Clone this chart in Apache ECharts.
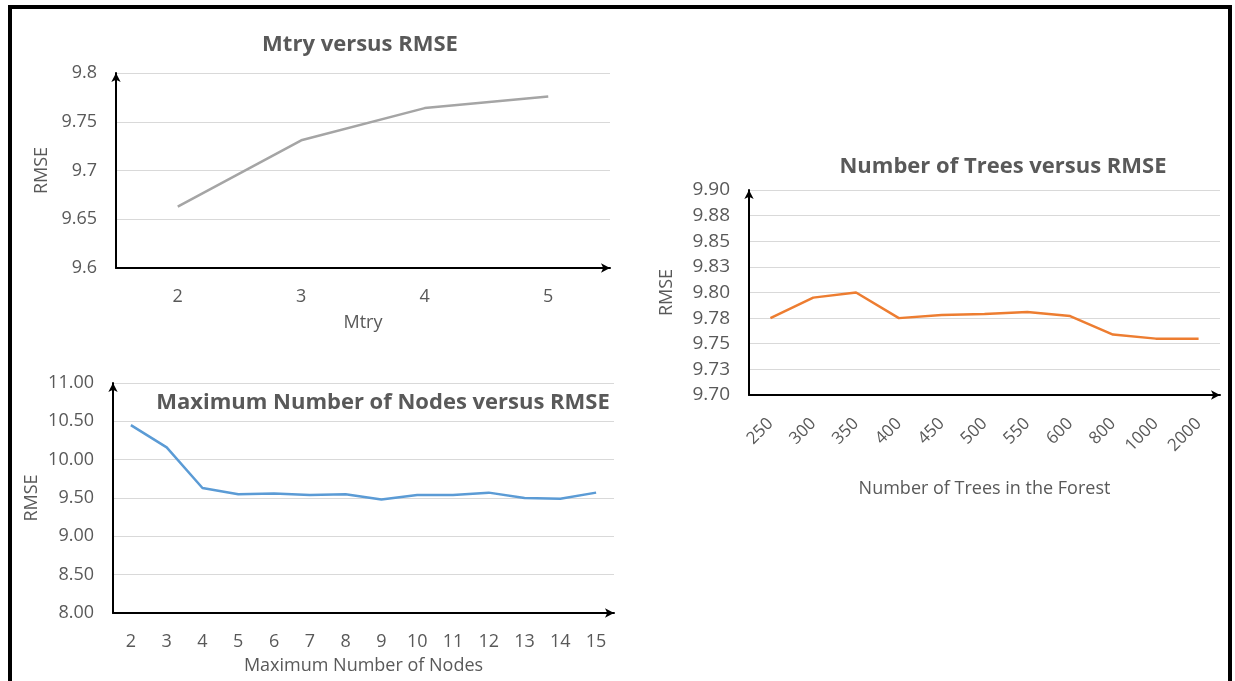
<!DOCTYPE html>
<html>
<head>
<meta charset="utf-8">
<script src="https://cdn.jsdelivr.net/npm/echarts@6/dist/echarts.min.js"></script>
<style>
    html, body { margin: 0; padding: 0; background: #fff; }
    #chart { width: 1235px; height: 681px; }
</style>
</head>
<body>
<div id="chart"></div>
<script>
// Mtry chart
const mtryCats = ['2', '3', '4', '5']
const mtryRmse = [9.663, 9.731, 9.764, 9.776]

// max nodes chart
const nodeCats = ['2', '3', '4', '5', '6', '7', '8', '9', '10', '11', '12', '13', '14', '15']
const nodeRmse = [10.45, 10.16, 9.63, 9.55, 9.56, 9.54, 9.55, 9.48, 9.54, 9.54, 9.57, 9.50, 9.49, 9.57]

// number of trees chart
const treeCats = ['250', '300', '350', '400', '450', '500', '550', '600', '800', '1000', '2000']
const treeRmse = [9.775, 9.795, 9.800, 9.775, 9.778, 9.779, 9.781, 9.777, 9.759, 9.755, 9.755]
const treeTicks = ['9.70', '9.73', '9.75', '9.78', '9.80', '9.83', '9.85', '9.88', '9.90']

const FONT = '"Open Sans", "Noto Sans", sans-serif'
const TEXT = '#595959'

const chartInstance = echarts.init(document.getElementById('chart'))

function axisLine() {
    return {
        show: true,
        onZero: false,
        symbol: ['none', 'arrow'],
        symbolSize: [7, 9],
        lineStyle: { color: '#000', width: 2 }
    }
}

function xAxis(gridIndex, cats, name, gap, extra) {
    return Object.assign({
        type: 'category',
        gridIndex: gridIndex,
        data: cats,
        name: name,
        nameLocation: 'middle',
        nameGap: gap,
        nameTextStyle: { color: TEXT, fontSize: 18, fontFamily: FONT },
        axisLine: axisLine(),
        axisTick: { show: false },
        axisLabel: { color: TEXT, fontSize: 18, fontFamily: FONT, margin: 20 },
        splitLine: { show: false }
    }, extra || {})
}

function yAxis(gridIndex, min, max, interval, gap, formatter, fontSize) {
    return {
        type: 'value',
        gridIndex: gridIndex,
        min: min,
        max: max,
        interval: interval,
        name: 'RMSE',
        nameLocation: 'middle',
        nameRotate: 90,
        nameGap: gap,
        nameTextStyle: { color: TEXT, fontSize: 18, fontFamily: FONT },
        axisLine: axisLine(),
        axisTick: { show: false },
        axisLabel: {
            color: TEXT,
            fontSize: fontSize,
            fontFamily: FONT,
            margin: 19,
            formatter: formatter
        },
        splitLine: { lineStyle: { color: '#d9d9d9', width: 1 } }
    }
}

function line(xi, data, color) {
    return {
        type: 'line',
        xAxisIndex: xi,
        yAxisIndex: xi,
        data: data,
        showSymbol: false,
        lineStyle: { color: color, width: 2.5 },
        animation: false
    }
}

const option = {
    backgroundColor: '#fff',
    title: [
        {
            text: 'Mtry versus RMSE',
            left: 355, top: 29, textAlign: 'center',
            textStyle: { color: TEXT, fontSize: 22, fontWeight: 'bold', fontFamily: FONT }
        },
        {
            text: 'Maximum Number of Nodes versus RMSE',
            left: 378, top: 387, textAlign: 'center',
            textStyle: { color: TEXT, fontSize: 22, fontWeight: 'bold', fontFamily: FONT }
        },
        {
            text: 'Number of Trees versus RMSE',
            left: 998, top: 151, textAlign: 'center',
            textStyle: { color: TEXT, fontSize: 22, fontWeight: 'bold', fontFamily: FONT }
        }
    ],
    grid: [
        { left: 116, top: 73, width: 494, height: 195 },
        { left: 113, top: 383, width: 501, height: 230 },
        { left: 749, top: 190, width: 471, height: 205 }
    ],
    xAxis: [
        xAxis(0, mtryCats, 'Mtry', 46),
        xAxis(1, nodeCats, 'Maximum Number of Nodes', 44),
        xAxis(2, treeCats, 'Number of Trees in the Forest', 85, {
            axisLabel: { color: TEXT, fontSize: 17, fontFamily: FONT, margin: 26, rotate: 45 }
        })
    ],
    yAxis: [
        yAxis(0, 9.6, 9.8, 0.05, 65, function (v) {
            return String(Math.round(v * 100) / 100)
        }, 18),
        yAxis(1, 8, 11, 0.5, 72, function (v) {
            return v.toFixed(2)
        }, 18),
        yAxis(2, 9.7, 9.9, 0.025, 73, function (v) {
            return treeTicks[Math.round((v - 9.7) / 0.025)]
        }, 19)
    ],
    series: [
        line(0, mtryRmse, '#a5a5a5'),
        line(1, nodeRmse, '#5b9bd5'),
        line(2, treeRmse, '#ed7d31')
    ],
    graphic: [
        {
            type: 'rect',
            shape: { x: 10, y: 7, width: 1220, height: 700 },
            style: { fill: 'none', stroke: '#000', lineWidth: 4 },
            silent: true
        }
    ]
}

chartInstance.setOption(option)

window.addEventListener('resize', function () {
    chartInstance.resize()
})
</script>
</body>
</html>
